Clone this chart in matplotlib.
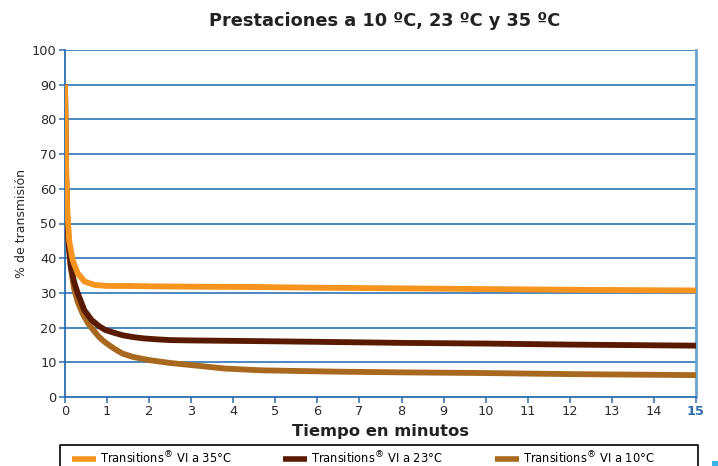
import matplotlib
matplotlib.use("Agg")
import matplotlib.pyplot as plt
from matplotlib.patches import Rectangle
from matplotlib.lines import Line2D
from matplotlib.font_manager import FontProperties

# ---- data ----
t35 = [0.0, 0.02, 0.05, 0.1, 0.18, 0.3, 0.46, 0.7, 1.0, 1.5, 2.0, 3.0, 4.5, 6.0, 8.0, 10.0, 12.0, 15.0]
v35 = [90.0, 70.0, 55.0, 45.0, 39.5, 35.7, 33.3, 32.3, 32.0, 32.0, 31.9, 31.8, 31.7, 31.5, 31.3, 31.1, 30.9, 30.7]

t23 = [0.0, 0.02, 0.05, 0.09, 0.14, 0.22, 0.3, 0.46, 0.63, 0.8, 0.96, 1.17, 1.37, 1.6, 1.86, 2.2, 2.5, 3.0, 4.6, 6.0, 8.0, 10.0, 12.0, 15.0]
v23 = [90.0, 68.0, 52.0, 44.0, 37.6, 33.0, 30.0, 25.0, 22.2, 20.5, 19.3, 18.5, 17.8, 17.3, 16.9, 16.6, 16.4, 16.3, 16.1, 15.9, 15.6, 15.4, 15.1, 14.8]

t10 = [0.0, 0.02, 0.05, 0.09, 0.14, 0.22, 0.3, 0.42, 0.55, 0.68, 0.8, 0.92, 1.04, 1.2, 1.37, 1.6, 1.8, 2.02, 2.5, 3.0, 3.4, 3.8, 4.65, 5.5, 6.5, 8.0, 10.0, 12.0, 15.0]
v10 = [90.0, 66.0, 50.0, 43.0, 37.0, 31.0, 27.5, 24.0, 21.2, 19.2, 17.4, 16.1, 15.0, 13.7, 12.5, 11.6, 11.1, 10.6, 9.8, 9.2, 8.7, 8.2, 7.7, 7.5, 7.3, 7.1, 6.9, 6.6, 6.3]

series_labels = [r"Transitions$^{\circledR}$ VI a 35°C",
                 r"Transitions$^{\circledR}$ VI a 23°C",
                 r"Transitions$^{\circledR}$ VI a 10°C"]
xticks = list(range(0, 16))
yticks = list(range(0, 101, 10))

title = "Prestaciones a 10 ºC, 23 ºC y 35 ºC"
xlabel = "Tiempo en minutos"
ylabel = "% de transmisión"

plt.rcParams['font.family'] = ['DejaVu Sans']
plt.rcParams['mathtext.fontset'] = 'dejavusans'

W, H = 718, 466
fig = plt.figure(figsize=(W / 100, H / 100), dpi=100)
ax = fig.add_axes([65 / W, (H - 397) / H, (696 - 65) / W, (397 - 50) / H])

grid_c = '#3D7EBD'
axis_c = '#2B6DAE'

ax.set_xlim(0, 15)
ax.set_ylim(0, 100)
ax.set_yticks(yticks)
ax.set_xticks(xticks)
for y in yticks[1:]:
    ax.axhline(y, color=grid_c, lw=1.3, zorder=1)

colors = ['#F7941D', '#5A1A00', '#A8691E']
ax.plot(t10, v10, color=colors[2], lw=4.2, solid_capstyle='butt', zorder=3)
ax.plot(t23, v23, color=colors[1], lw=4.2, solid_capstyle='butt', zorder=4)
ax.plot(t35, v35, color=colors[0], lw=4.2, solid_capstyle='butt', zorder=5)

ax.spines['top'].set_visible(False)
ax.spines['left'].set_color(axis_c)
ax.spines['left'].set_linewidth(1.3)
ax.spines['bottom'].set_color(axis_c)
ax.spines['bottom'].set_linewidth(1.3)
ax.spines['right'].set_color('#6AA2D2')
ax.spines['right'].set_linewidth(2.0)

ax.tick_params(axis='both', direction='out', length=4, width=1.1, color=axis_c,
               labelsize=9.3, labelcolor='#2A2A2A', pad=2)
for lab in ax.get_xticklabels():
    if lab.get_text() == '15':
        lab.set_fontweight('bold')
        lab.set_color('#2B6DAE')

ax.set_xlabel(xlabel, fontsize=11.8, fontweight='bold', color='#222222', labelpad=4)
ax.set_ylabel(ylabel, fontsize=9, color='#2A2A2A', labelpad=3)
fig.text(385 / W, 1 - 21 / H, title, ha='center', va='center', fontsize=12.8,
         fontweight='bold', color='#222222')

# legend: frame drawn separately (it runs off the bottom of the figure)
fsz = 9.2
px = fsz * 100 / 72
handles = [Line2D([0], [0], color=c, lw=4, solid_capstyle='butt') for c in colors]
legprop = FontProperties(family='DejaVu Sans', stretch='condensed', size=fsz)
leg = ax.legend(handles, series_labels, loc='center left', ncol=3,
                bbox_to_anchor=(72 / W, 1 - 458 / H), bbox_transform=fig.transFigure,
                borderaxespad=0, borderpad=0, frameon=False, handlelength=24 / px,
                handletextpad=4 / px, columnspacing=52 / px, prop=legprop)
fx = [60 / W, 60 / W, 698 / W, 698 / W]
fy = [-0.01, 1 - 445 / H, 1 - 445 / H, -0.01]
fig.add_artist(Line2D(fx, fy, transform=fig.transFigure, color='black', lw=1.2))

fig.patches.append(Rectangle((712 / W, 0), 6 / W, 5 / H, transform=fig.transFigure,
                             facecolor='#3CB4E6', edgecolor='none'))

fig.savefig('out.png', dpi=100)
